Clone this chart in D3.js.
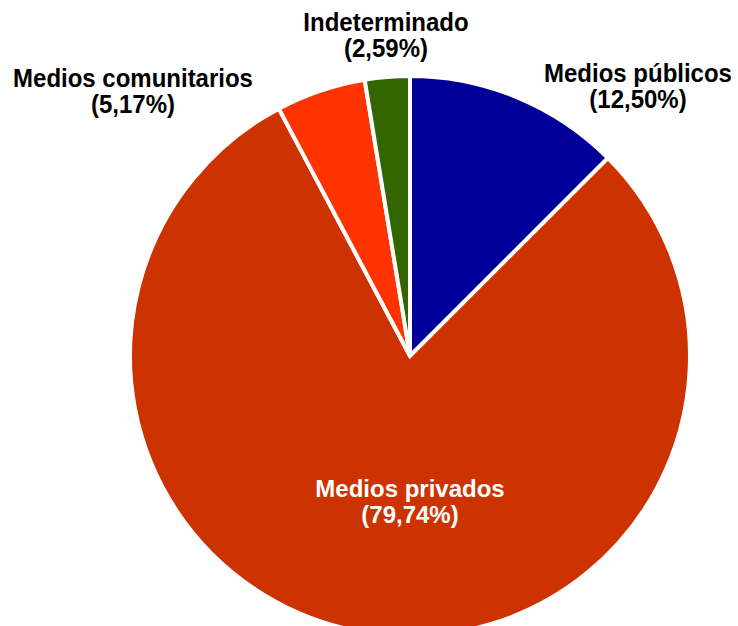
<!DOCTYPE html>
<html>
<head>
<meta charset="utf-8">
<script src="https://cdn.jsdelivr.net/npm/d3@7/dist/d3.min.js"></script>
<style>
  html, body { margin: 0; padding: 0; background: #fff; overflow: hidden; }
  svg { display: block; }
  text { font-family: "Liberation Sans", Arial, sans-serif; font-weight: bold; }
</style>
</head>
<body>
<svg id="chart" width="738" height="626"></svg>
<script>
// Share of media by ownership type (percent)
const categories = ["Medios públicos", "Medios privados", "Medios comunitarios", "Indeterminado"];
const shares = [12.50, 79.74, 5.17, 2.59];
const shareLabels = ["12,50%", "79,74%", "5,17%", "2,59%"];
const colors = ["#000099", "#cc3300", "#ff3300", "#336600"];

// Label layout: centre x, first baseline y, text colour, vertical stretch
const labelLayout = [
  { x: 638, y: 82, fill: "#000", sy: 1.04 },
  { x: 410, y: 497, fill: "#fff", sy: 1.0 },
  { x: 133, y: 87, fill: "#000", sy: 1.04 },
  { x: 386, y: 31, fill: "#000", sy: 1.04 }
];
const lineGap = 26;

const data = categories.map((c, i) => ({ name: c, value: shares[i], label: shareLabels[i], color: colors[i] }));

const svg = d3.select("#chart");
const cx = 410, cy = 356, radius = 280;

const pie = d3.pie().sort(null).value(d => d.value);
const arc = d3.arc().innerRadius(0).outerRadius(radius);

const g = svg.append("g").attr("transform", `translate(${cx},${cy})`);

g.selectAll("path.slice")
  .data(pie(data))
  .join("path")
  .attr("class", "slice")
  .attr("d", arc)
  .attr("fill", d => d.data.color)
  .attr("stroke", "#fff")
  .attr("stroke-width", 4)
  .attr("stroke-linejoin", "miter");

// Category labels, two lines each
const labels = svg.selectAll("g.label")
  .data(data)
  .join("g")
  .attr("class", "label")
  .attr("transform", (d, i) => `translate(${labelLayout[i].x},${labelLayout[i].y}) scale(1,${labelLayout[i].sy})`);

labels.append("text")
  .attr("text-anchor", "middle")
  .attr("font-size", 24)
  .attr("fill", (d, i) => labelLayout[i].fill)
  .text(d => d.name);

labels.append("text")
  .attr("text-anchor", "middle")
  .attr("font-size", 24)
  .attr("y", (d, i) => lineGap / labelLayout[i].sy)
  .attr("fill", (d, i) => labelLayout[i].fill)
  .text(d => `(${d.label})`);
</script>
</body>
</html>
